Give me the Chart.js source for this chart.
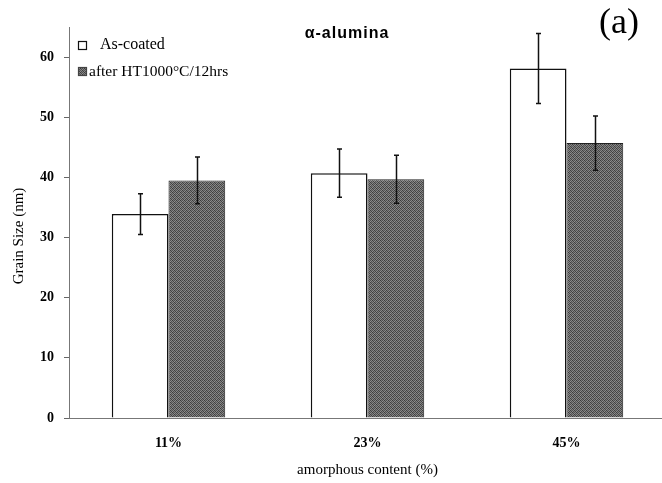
<!DOCTYPE html>
<html>
<head>
<meta charset="utf-8">
<script src="https://cdn.jsdelivr.net/npm/chart.js@4.4.1/dist/chart.umd.min.js"></script>
<style>
  html, body { margin: 0; padding: 0; background: #fff; overflow: hidden; }
  canvas { display: block; }
</style>
</head>
<body>
<canvas id="grain" width="670" height="483"></canvas>
<script>
// grain size vs amorphous content
const categories = ['11%', '23%', '45%'];
const seriesNames = ['As-coated', 'after HT1000°C/12hrs'];
const asCoated = [33.9, 40.7, 58.1];
const asCoatedErr = [3.4, 4.0, 5.8];
const afterHT = [39.5, 39.7, 45.7];
const afterHTErr = [3.9, 4.0, 4.5];
const yTicks = [0, 10, 20, 30, 40, 50, 60];

const serif = "'Liberation Serif', 'Times New Roman', serif";

// stippled gray fill for the heat-treated bars
function stipple() {
    const c = document.createElement('canvas');
    c.width = 4; c.height = 4;
    const g = c.getContext('2d');
    const shades = ['#3a3a3a', '#7c7c7c', '#4e4e4e', '#8a8a8a',
                    '#838383', '#454545', '#909090', '#515151',
                    '#565656', '#898989', '#3f3f3f', '#787878',
                    '#8d8d8d', '#494949', '#7f7f7f', '#424242'];
    for (let i = 0; i < 16; i++) {
        g.fillStyle = shades[i];
        g.fillRect(i % 4, Math.floor(i / 4), 1, 1);
    }
    return g.createPattern(c, 'repeat');
}
const grayFill = stipple();

// error bars drawn on top of each bar
const errorBars = {
    id: 'errorBars',
    afterDatasetsDraw(chart) {
        const ctx = chart.ctx;
        const y = chart.scales.y;
        const errs = [asCoatedErr, afterHTErr];
        ctx.save();
        ctx.strokeStyle = '#111';
        ctx.lineWidth = 1.5;
        chart.data.datasets.forEach((ds, di) => {
            chart.getDatasetMeta(di).data.forEach((bar, i) => {
                const v = ds.data[i];
                const top = y.getPixelForValue(v + errs[di][i]);
                const bot = y.getPixelForValue(v - errs[di][i]);
                const x = Math.round(bar.x) + 0.5;
                ctx.beginPath();
                ctx.moveTo(x, top); ctx.lineTo(x, bot);
                ctx.moveTo(x - 2.5, top); ctx.lineTo(x + 2.5, top);
                ctx.moveTo(x - 2.5, bot); ctx.lineTo(x + 2.5, bot);
                ctx.stroke();
            });
        });
        ctx.restore();
    }
};

// legend, titles and panel label
const annotations = {
    id: 'annotations',
    afterDraw(chart) {
        const ctx = chart.ctx;
        ctx.save();
        ctx.textBaseline = 'middle';

        // legend
        ctx.lineWidth = 1.2;
        ctx.strokeStyle = '#111';
        ctx.fillStyle = '#fff';
        ctx.fillRect(78.5, 41.5, 8, 8);
        ctx.strokeRect(78.5, 41.5, 8, 8);
        ctx.fillStyle = grayFill;
        ctx.fillRect(78.5, 67.5, 8, 8);
        ctx.strokeStyle = '#444';
        ctx.strokeRect(78.5, 67.5, 8, 8);
        ctx.fillStyle = '#000';
        ctx.textAlign = 'left';
        ctx.font = '16px ' + serif;
        ctx.fillText(seriesNames[0], 100, 45);
        ctx.font = '15.5px ' + serif;
        ctx.fillText(seriesNames[1], 89, 72);

        // chart title
        ctx.textAlign = 'center';
        ctx.font = "bold 16px 'Liberation Sans', Arial, sans-serif";
        ctx.letterSpacing = '1px';
        ctx.fillText('α-alumina', 347, 34);
        ctx.letterSpacing = '0px';

        // panel label
        ctx.font = '36px ' + serif;
        ctx.fillText('(a)', 619, 24);

        // y axis title
        ctx.translate(19, 236);
        ctx.rotate(-Math.PI / 2);
        ctx.font = '15px ' + serif;
        ctx.fillText('Grain Size (nm)', 0, 0);
        ctx.restore();
    }
};

new Chart(document.getElementById('grain'), {
    type: 'bar',
    data: {
        labels: categories,
        datasets: [{
            label: seriesNames[0],
            data: asCoated,
            backgroundColor: '#ffffff',
            borderColor: '#111',
            borderWidth: 1.5
        }, {
            label: seriesNames[1],
            data: afterHT,
            backgroundColor: grayFill,
            borderColor: '#222',
            borderWidth: 1
        }]
    },
    options: {
        responsive: false,
        animation: false,
        devicePixelRatio: 1,
        categoryPercentage: 0.57,
        barPercentage: 1.0,
        layout: { padding: { top: 27, right: 4, left: 0, bottom: 0 } },
        plugins: {
            legend: { display: false },
            tooltip: { enabled: false }
        },
        scales: {
            x: {
                grid: { display: false },
                border: { display: true, color: '#777', dash: [2, 1], width: 1 },
                ticks: {
                    color: '#000',
                    font: { family: serif, size: 14, weight: 'bold' },
                    padding: 9
                },
                title: {
                    display: true,
                    text: 'amorphous content (%)',
                    color: '#000',
                    font: { family: serif, size: 15 },
                    padding: { top: 5 }
                },
                afterFit(scale) { scale.height = 65; }
            },
            y: {
                min: 0,
                max: 65,
                afterBuildTicks(scale) {
                    scale.ticks = yTicks.map(v => ({ value: v }));
                },
                grid: {
                    drawOnChartArea: false,
                    drawTicks: true,
                    tickLength: 5,
                    color: '#666'
                },
                border: { display: true, color: '#777', dash: [2, 1], width: 1 },
                ticks: {
                    color: '#000',
                    font: { family: serif, size: 14, weight: 'bold' },
                    padding: 10
                },
                afterFit(scale) { scale.width = 69; }
            }
        }
    },
    plugins: [errorBars, annotations]
});
</script>
</body>
</html>
